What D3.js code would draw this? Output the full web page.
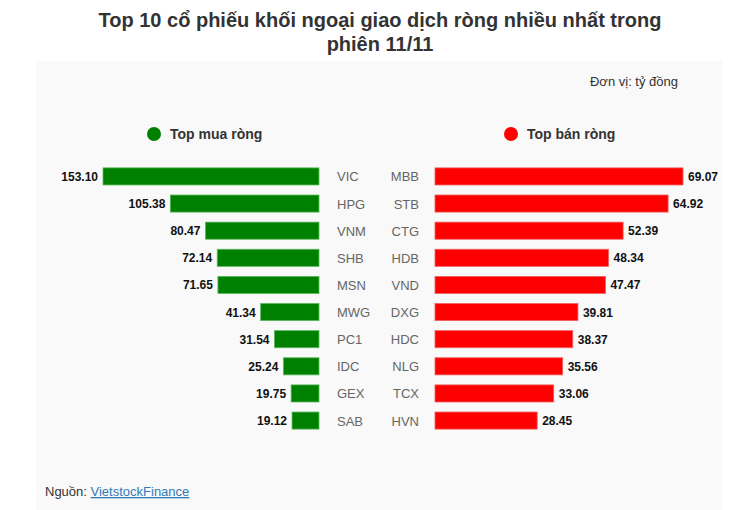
<!DOCTYPE html>
<html>
<head>
<meta charset="utf-8">
<script src="https://cdn.jsdelivr.net/npm/d3@7"></script>
<style>
  body { margin: 0; background: #fff; font-family: Arial, "Liberation Sans", sans-serif; }
</style>
</head>
<body>
<svg id="chart" width="741" height="510"></svg>
<script>
// mua rong (green) - left side
var buyCodes = ["VIC","HPG","VNM","SHB","MSN","MWG","PC1","IDC","GEX","SAB"]
var buyValues = [153.10,105.38,80.47,72.14,71.65,41.34,31.54,25.24,19.75,19.12]
// ban rong (red) - right side
var sellCodes = ["MBB","STB","CTG","HDB","VND","DXG","HDC","NLG","TCX","HVN"]
var sellValues = [69.07,64.92,52.39,48.34,47.47,39.81,38.37,35.56,33.06,28.45]

var svg = d3.select("#chart")

// background panel
svg.append("rect")
  .attr("x", 36).attr("y", 61)
  .attr("width", 686).attr("height", 449)
  .attr("fill", "#f9f9f9")

// title
var title = svg.append("text")
  .attr("text-anchor", "middle")
  .attr("font-size", 20)
  .attr("font-weight", "bold")
  .attr("fill", "#333")
title.append("tspan").attr("x", 380).attr("y", 27).text("Top 10 cổ phiếu khối ngoại giao dịch ròng nhiều nhất trong")
title.append("tspan").attr("x", 380).attr("y", 51).text("phiên 11/11")

svg.append("text")
  .attr("x", 678).attr("y", 86)
  .attr("text-anchor", "end")
  .attr("font-size", 13)
  .attr("fill", "#333")
  .text("Đơn vị: tỷ đồng")

// legend
var legend = [
  {label: "Top mua ròng", color: "#008000", x: 154},
  {label: "Top bán ròng", color: "#ff0000", x: 511}
]
legend.forEach(function(d){
  svg.append("circle").attr("cx", d.x).attr("cy", 134).attr("r", 7).attr("fill", d.color)
  svg.append("text").attr("x", d.x + 16).attr("y", 139)
    .attr("font-size", 14).attr("font-weight", "bold").attr("fill", "#333")
    .text(d.label)
})

var y = d3.scaleBand()
  .domain(d3.range(10))
  .range([163, 434])
  .paddingInner(0.37)
  .paddingOuter(0.18)

var buyX = d3.scaleLinear().domain([0, 153.10]).range([319, 103])
var sellX = d3.scaleLinear().domain([0, 69.07]).range([435, 683])

var buy = svg.append("g")
buy.selectAll("rect").data(buyValues).enter().append("rect")
  .attr("x", function(d){ return buyX(d) })
  .attr("y", function(d,i){ return y(i) })
  .attr("width", function(d){ return buyX(0) - buyX(d) })
  .attr("height", y.bandwidth())
  .attr("fill", "#008000")
  .attr("stroke", "#5cb85c").attr("stroke-width", 0.8)
buy.selectAll(".val").data(buyValues).enter().append("text")
  .attr("x", function(d){ return buyX(d) - 5 })
  .attr("y", function(d,i){ return y(i) + y.bandwidth()/2 + 4.5 })
  .attr("text-anchor", "end")
  .attr("font-size", 12).attr("font-weight", "bold").attr("fill", "#111")
  .text(function(d){ return d.toFixed(2) })
buy.selectAll(".code").data(buyCodes).enter().append("text")
  .attr("x", 337)
  .attr("y", function(d,i){ return y(i) + y.bandwidth()/2 + 5 })
  .attr("font-size", 13).attr("fill", "#666")
  .text(function(d){ return d })

var sell = svg.append("g")
sell.selectAll("rect").data(sellValues).enter().append("rect")
  .attr("x", sellX(0))
  .attr("y", function(d,i){ return y(i) })
  .attr("width", function(d){ return sellX(d) - sellX(0) })
  .attr("height", y.bandwidth())
  .attr("fill", "#ff0000")
  .attr("stroke", "#f06060").attr("stroke-width", 0.8)
sell.selectAll(".val").data(sellValues).enter().append("text")
  .attr("x", function(d){ return sellX(d) + 5 })
  .attr("y", function(d,i){ return y(i) + y.bandwidth()/2 + 4.5 })
  .attr("font-size", 12).attr("font-weight", "bold").attr("fill", "#111")
  .text(function(d){ return d.toFixed(2) })
sell.selectAll(".code").data(sellCodes).enter().append("text")
  .attr("x", 419)
  .attr("y", function(d,i){ return y(i) + y.bandwidth()/2 + 5 })
  .attr("text-anchor", "end")
  .attr("font-size", 13).attr("fill", "#666")
  .text(function(d){ return d })

// source
var src = svg.append("text").attr("x", 45).attr("y", 496).attr("font-size", 13).attr("fill", "#333")
src.append("tspan").text("Nguồn: ")
src.append("tspan").attr("fill", "#337ab7").attr("text-decoration", "underline").text("VietstockFinance")
</script>
</body>
</html>
